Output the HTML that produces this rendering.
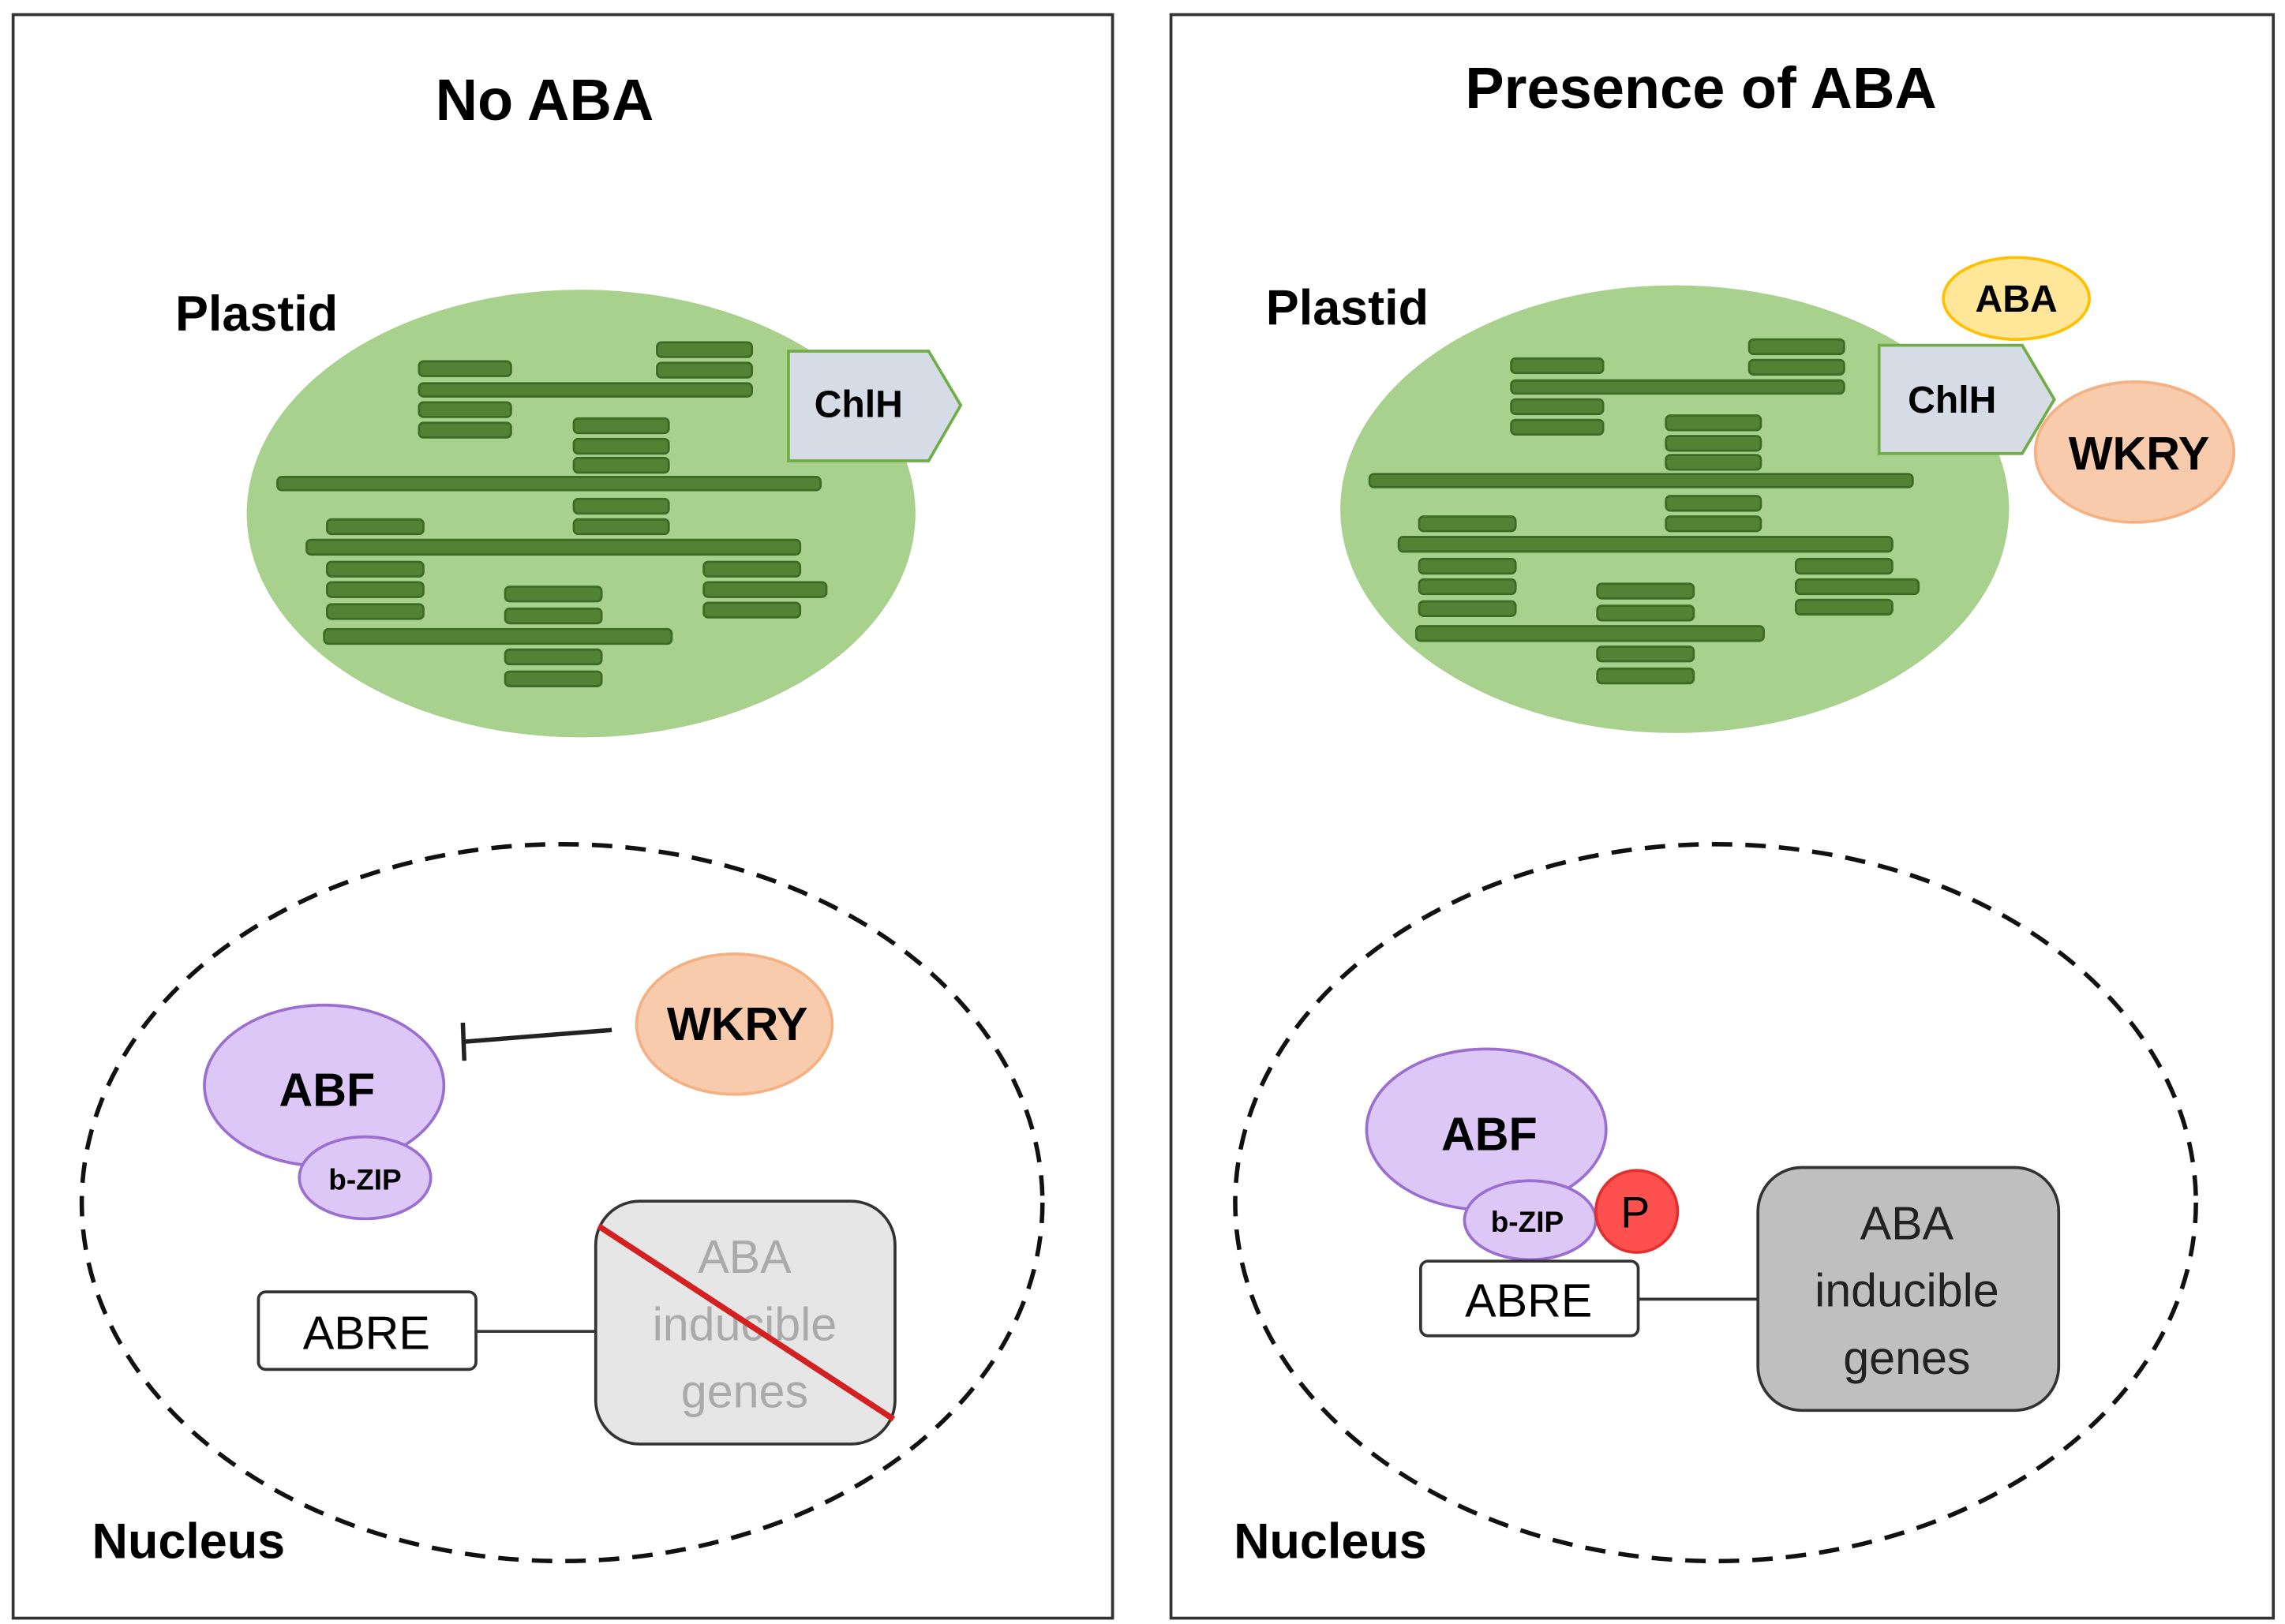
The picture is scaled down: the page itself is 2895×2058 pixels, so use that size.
<!DOCTYPE html>
<html><head><style>html,body{margin:0;padding:0;background:#fff}svg{display:block}</style></head>
<body>
<svg width="2895" height="2058" viewBox="0 0 1565 1110" preserveAspectRatio="none" xmlns="http://www.w3.org/2000/svg" font-family="Liberation Sans, sans-serif">
<defs>
<g id="thy" fill="#548235" stroke="#3d6b25" stroke-width="1.5">
<rect x="287" y="247" width="63" height="10" rx="3"/>
<rect x="450" y="234" width="65" height="10" rx="3"/>
<rect x="450" y="248" width="65" height="10" rx="3"/>
<rect x="287" y="262" width="228" height="9" rx="3"/>
<rect x="287" y="275" width="63" height="10" rx="3"/>
<rect x="287" y="289" width="63" height="10" rx="3"/>
<rect x="393" y="286" width="65" height="10" rx="3"/>
<rect x="393" y="300" width="65" height="10" rx="3"/>
<rect x="393" y="313" width="65" height="10" rx="3"/>
<rect x="190" y="326" width="372" height="9" rx="3"/>
<rect x="393" y="341" width="65" height="10" rx="3"/>
<rect x="393" y="355" width="65" height="10" rx="3"/>
<rect x="224" y="355" width="66" height="10" rx="3"/>
<rect x="210" y="369" width="338" height="10" rx="3"/>
<rect x="224" y="384" width="66" height="10" rx="3"/>
<rect x="224" y="398" width="66" height="10" rx="3"/>
<rect x="224" y="413" width="66" height="10" rx="3"/>
<rect x="482" y="384" width="66" height="10" rx="3"/>
<rect x="482" y="398" width="84" height="10" rx="3"/>
<rect x="482" y="412" width="66" height="10" rx="3"/>
<rect x="346" y="401" width="66" height="10" rx="3"/>
<rect x="346" y="416" width="66" height="10" rx="3"/>
<rect x="222" y="430" width="238" height="10" rx="3"/>
<rect x="346" y="444" width="66" height="10" rx="3"/>
<rect x="346" y="459" width="66" height="10" rx="3"/>
</g>
</defs>
<rect x="9" y="10" width="753" height="1096" fill="#fff" stroke="#333" stroke-width="2"/>
<rect x="802" y="10" width="755" height="1096" fill="#fff" stroke="#333" stroke-width="2"/>
<text x="373" y="82" font-size="40" font-weight="bold" text-anchor="middle">No ABA</text>
<text x="1165" y="74" font-size="40" font-weight="bold" text-anchor="middle">Presence of ABA</text>

<!-- left plastid -->
<text x="120" y="226" font-size="34" font-weight="bold">Plastid</text>
<ellipse cx="398" cy="351" rx="229" ry="153" fill="#a9d18e"/>
<use href="#thy"/>
<path d="M540 240 L636 240 L658 277 L636 315 L540 315 Z" fill="#d6dce5" stroke="#70ad47" stroke-width="2"/>
<text x="588" y="285" font-size="26" font-weight="bold" text-anchor="middle">ChlH</text>

<!-- right plastid -->
<text x="867" y="222" font-size="34" font-weight="bold">Plastid</text>
<ellipse cx="1147" cy="348" rx="229" ry="153" fill="#a9d18e"/>
<g transform="translate(748,-2)"><use href="#thy"/></g>
<ellipse cx="1381" cy="204" rx="50" ry="28" fill="#ffe699" stroke="#ffc000" stroke-width="2"/>
<text x="1381" y="213" font-size="26" font-weight="bold" text-anchor="middle">ABA</text>
<path d="M1287 236 L1385 236 L1407 273 L1385 310 L1287 310 Z" fill="#d6dce5" stroke="#70ad47" stroke-width="2"/>
<text x="1337" y="282" font-size="26" font-weight="bold" text-anchor="middle">ChlH</text>
<ellipse cx="1462" cy="309" rx="68" ry="48" fill="#f8cbad" stroke="#f4b183" stroke-width="2"/>
<text x="1465" y="321" font-size="32" font-weight="bold" text-anchor="middle">WKRY</text>

<!-- left nucleus -->
<ellipse cx="385" cy="822" rx="329" ry="245" fill="none" stroke="#111" stroke-width="3" stroke-dasharray="14,9"/>
<text x="63" y="1065" font-size="34" font-weight="bold">Nucleus</text>
<ellipse cx="222" cy="742" rx="82" ry="55" fill="#dcc7f7" stroke="#9b6fd0" stroke-width="2"/>
<text x="224" y="756" font-size="32" font-weight="bold" text-anchor="middle">ABF</text>
<ellipse cx="250" cy="805" rx="45" ry="28" fill="#dcc7f7" stroke="#9b6fd0" stroke-width="2"/>
<text x="250" y="813" font-size="20" font-weight="bold" text-anchor="middle">b-ZIP</text>
<ellipse cx="503" cy="700" rx="67" ry="48" fill="#f8cbad" stroke="#f4b183" stroke-width="2"/>
<text x="505" y="711" font-size="32" font-weight="bold" text-anchor="middle">WKRY</text>
<line x1="419" y1="704" x2="318" y2="712" stroke="#222" stroke-width="3"/>
<line x1="317" y1="699" x2="318" y2="725" stroke="#222" stroke-width="3"/>
<rect x="177" y="883" width="149" height="53" rx="5" fill="#fff" stroke="#333" stroke-width="2"/>
<text x="251" y="922" font-size="32" text-anchor="middle">ABRE</text>
<line x1="326" y1="910" x2="408" y2="910" stroke="#333" stroke-width="2"/>
<rect x="408" y="821" width="205" height="166" rx="30" fill="#e6e6e6" stroke="#333" stroke-width="2"/>
<g font-size="32" fill="#aaa" text-anchor="middle">
<text x="510" y="870">ABA</text><text x="510" y="916">inducible</text><text x="510" y="962">genes</text></g>
<line x1="410" y1="838" x2="612" y2="970" stroke="#d42020" stroke-width="4"/>

<!-- right nucleus -->
<ellipse cx="1175" cy="822" rx="329" ry="245" fill="none" stroke="#111" stroke-width="3" stroke-dasharray="14,9"/>
<text x="845" y="1065" font-size="34" font-weight="bold">Nucleus</text>
<ellipse cx="1018" cy="772" rx="82" ry="55" fill="#dcc7f7" stroke="#9b6fd0" stroke-width="2"/>
<text x="1020" y="786" font-size="32" font-weight="bold" text-anchor="middle">ABF</text>
<ellipse cx="1048" cy="834" rx="45" ry="27" fill="#dcc7f7" stroke="#9b6fd0" stroke-width="2"/>
<text x="1046" y="842" font-size="20" font-weight="bold" text-anchor="middle">b-ZIP</text>
<circle cx="1121" cy="828" r="28" fill="#ff5050" stroke="#e03030" stroke-width="2"/>
<text x="1120" y="839" font-size="30" text-anchor="middle">P</text>
<rect x="973" y="862" width="149" height="51" rx="5" fill="#fff" stroke="#333" stroke-width="2"/>
<text x="1047" y="900" font-size="32" text-anchor="middle">ABRE</text>
<line x1="1122" y1="888" x2="1204" y2="888" stroke="#333" stroke-width="2"/>
<rect x="1204" y="798" width="206" height="166" rx="30" fill="#bfbfbf" stroke="#333" stroke-width="2"/>
<g font-size="32" fill="#222" text-anchor="middle">
<text x="1306" y="847">ABA</text><text x="1306" y="893">inducible</text><text x="1306" y="939">genes</text></g>
</svg>
</body></html>
